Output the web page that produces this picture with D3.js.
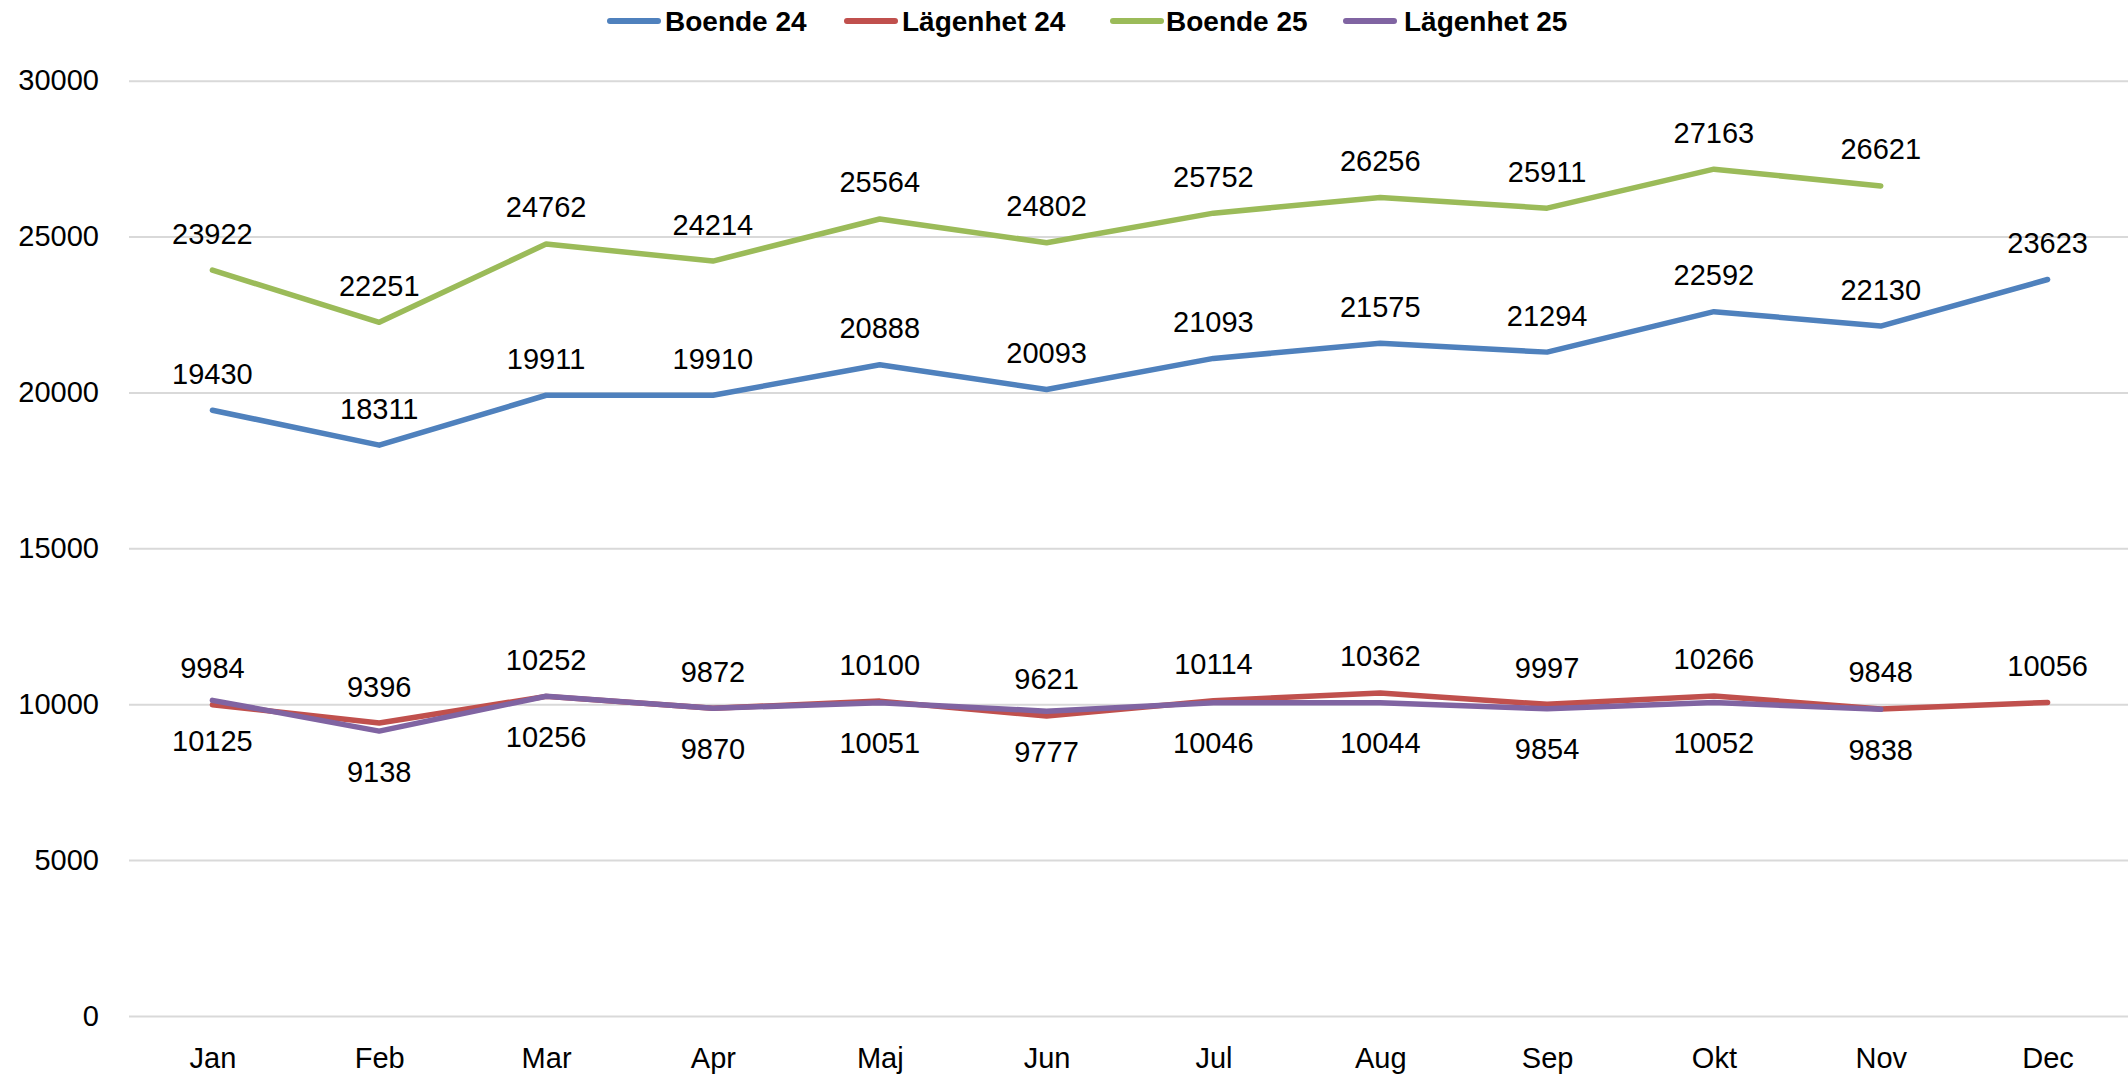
<!DOCTYPE html>
<html>
<head>
<meta charset="utf-8">
<script src="https://cdn.jsdelivr.net/npm/d3@7"></script>
<style>
  html, body { margin: 0; padding: 0; background: #fff; }
  svg { display: block; font-family: "Liberation Sans", Arial, sans-serif; }
</style>
</head>
<body>
<svg id="chart" width="2128" height="1074"></svg>
<script>
const months = ["Jan","Feb","Mar","Apr","Maj","Jun","Jul","Aug","Sep","Okt","Nov","Dec"];
const yTicks = [0, 5000, 10000, 15000, 20000, 25000, 30000];

const boende24   = [19430, 18311, 19911, 19910, 20888, 20093, 21093, 21575, 21294, 22592, 22130, 23623];
const lagenhet24 = [9984, 9396, 10252, 9872, 10100, 9621, 10114, 10362, 9997, 10266, 9848, 10056];
const boende25   = [23922, 22251, 24762, 24214, 25564, 24802, 25752, 26256, 25911, 27163, 26621];
const lagenhet25 = [10125, 9138, 10256, 9870, 10051, 9777, 10046, 10044, 9854, 10052, 9838];

const seriesNames = ["Boende 24", "Lägenhet 24", "Boende 25", "Lägenhet 25"];
const seriesValues = [boende24, lagenhet24, boende25, lagenhet25];
const colors = ["#4F81BD", "#C0504D", "#9BBB59", "#8064A2"];
const labelSide = [-1, -1, -1, 1]; // -1 above, 1 below

(function () {
  const svg = d3.select("#chart");
  const W = 2128;
  const plotLeft = 129, plotRight = 2131, plotTop = 80.7, plotBottom = 1016;

  const x = d3.scalePoint().domain(months).range([plotLeft, plotRight]).padding(0.5);
  const y = d3.scaleLinear().domain([0, 30000]).range([plotBottom, plotTop]);

  // Y axis with gridlines
  const yAxis = d3.axisLeft(y).tickValues(yTicks).tickSizeInner(-(W - plotLeft)).tickSizeOuter(0).tickPadding(30).tickFormat(d3.format("d"));
  const gy = svg.append("g").attr("transform", `translate(${plotLeft},0)`).call(yAxis);
  gy.select(".domain").remove();
  gy.selectAll(".tick line").attr("stroke", "#D9D9D9").attr("stroke-width", 2);
  gy.selectAll(".tick text").attr("font-size", 29).attr("fill", "#000").attr("font-family", "Liberation Sans, Arial, sans-serif");

  // X axis
  const xAxis = d3.axisBottom(x).tickSize(0).tickPadding(31);
  const gx = svg.append("g").attr("transform", `translate(0,${plotBottom})`).call(xAxis);
  gx.select(".domain").remove();
  gx.selectAll(".tick text").attr("font-size", 29).attr("fill", "#000").attr("font-family", "Liberation Sans, Arial, sans-serif");

  // Lines
  const line = d3.line().x((d, i) => x(months[i])).y(d => y(d));
  seriesValues.forEach((vals, si) => {
    svg.append("path")
      .datum(vals)
      .attr("d", line)
      .attr("fill", "none")
      .attr("stroke", colors[si])
      .attr("stroke-width", 5.5)
      .attr("stroke-linejoin", "round")
      .attr("stroke-linecap", "round");
  });

  // Data labels
  seriesValues.forEach((vals, si) => {
    svg.append("g").selectAll("text")
      .data(vals)
      .join("text")
      .attr("x", (d, i) => x(months[i]))
      .attr("y", d => y(d) + (labelSide[si] < 0 ? -37 : 40))
      .attr("dy", "0.36em")
      .attr("text-anchor", "middle")
      .attr("font-size", 29)
      .attr("fill", "#000")
      .text(d => d);
  });

  // Legend
  const legendItems = [
    { x0: 607, tx: 665 },
    { x0: 844, tx: 902 },
    { x0: 1110, tx: 1166 },
    { x0: 1343, tx: 1404 }
  ];
  const lg = svg.append("g");
  seriesNames.forEach((name, i) => {
    const it = legendItems[i];
    lg.append("line")
      .attr("x1", it.x0 + 3).attr("x2", it.x0 + 51)
      .attr("y1", 21).attr("y2", 21)
      .attr("stroke", colors[i]).attr("stroke-width", 6).attr("stroke-linecap", "round");
    lg.append("text")
      .attr("x", it.tx).attr("y", 21).attr("dy", "0.36em")
      .attr("font-size", 28).attr("font-weight", "bold").attr("fill", "#000")
      .text(name);
  });
})();
</script>
</body>
</html>
